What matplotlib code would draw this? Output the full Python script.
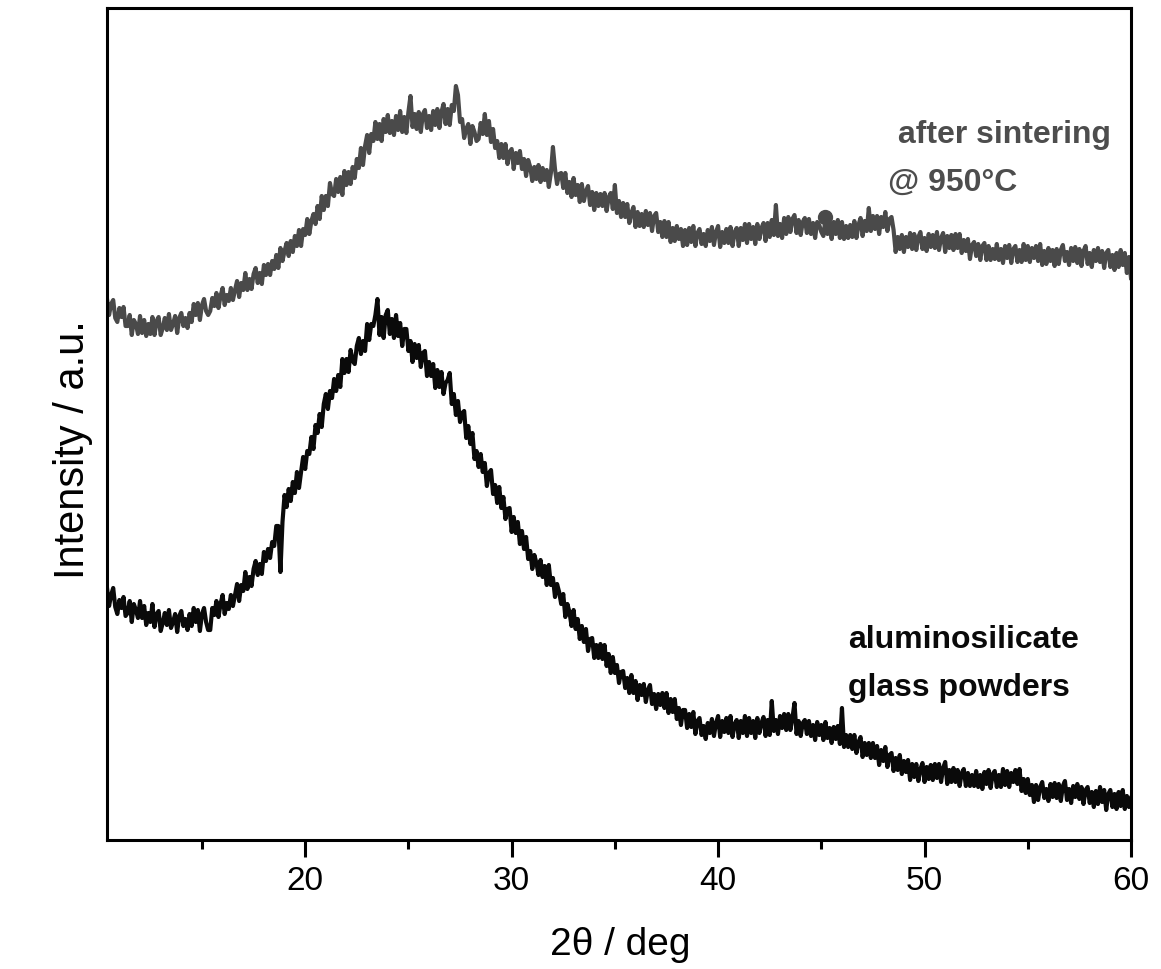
import numpy as np
import matplotlib
matplotlib.use("Agg")
import matplotlib.pyplot as plt

plt.rcParams['font.family'] = ['Liberation Sans', 'DejaVu Sans']

# 2theta scan grid (deg), step 0.1 from 10.4 to 60.0
two_theta = np.round(np.arange(10.4, 60.0001, 0.1), 1)

# aluminosilicate glass powders (a.u.), one row per degree starting at 10.4
glass = [
    252, 234, 245, 252, 233, 226, 240, 232, 243, 224,
    227, 239, 218, 236, 230, 222, 239, 222, 234, 215,
    227, 218, 236, 213, 226, 229, 209, 217, 227, 215,
    230, 212, 218, 226, 208, 224, 229, 214, 221, 210,
    226, 214, 232, 218, 230, 209, 226, 232, 218, 210,
    210, 232, 225, 239, 223, 236, 245, 226, 237, 231,
    245, 234, 245, 256, 239, 255, 249, 268, 251, 263,
    254, 271, 279, 265, 276, 266, 288, 279, 291, 282,
    298, 294, 314, 314, 268, 318, 345, 333, 351, 339,
    358, 347, 368, 352, 368, 383, 371, 389, 386, 403,
    391, 415, 407, 426, 413, 436, 446, 431, 449, 442,
    461, 449, 465, 453, 481, 467, 481, 468, 490, 479,
    476, 494, 502, 486, 499, 489, 516, 500, 516, 514,
    525, 541, 505, 523, 502, 525, 530, 506, 521, 502,
    525, 504, 517, 494, 511, 511, 489, 499, 478, 496,
    482, 495, 473, 487, 489, 464, 478, 464, 476, 452,
    470, 453, 468, 446, 457, 460, 467, 436, 446, 425,
    439, 418, 427, 429, 402, 414, 396, 407, 381, 389,
    373, 386, 368, 377, 354, 367, 370, 346, 355, 337,
    353, 332, 343, 321, 331, 332, 308, 323, 307, 318,
    296, 309, 291, 303, 281, 289, 271, 285, 277, 265,
    280, 263, 274, 255, 275, 255, 262, 243, 256, 248,
    236, 246, 223, 236, 228, 214, 230, 211, 221, 201,
    214, 198, 211, 189, 201, 202, 182, 195, 182, 196,
    181, 195, 174, 186, 167, 183, 167, 175, 157, 168,
    169, 152, 162, 147, 165, 147, 159, 140, 155, 145,
    156, 138, 150, 155, 136, 146, 131, 146, 135, 147,
    132, 147, 127, 141, 128, 141, 121, 132, 115, 130,
    130, 112, 126, 113, 128, 106, 119, 122, 105, 114,
    101, 117, 107, 121, 104, 117, 124, 103, 119, 108,
    122, 107, 124, 103, 116, 120, 102, 119, 107, 124,
    104, 122, 107, 119, 102, 122, 107, 117, 123, 104,
    120, 105, 139, 109, 120, 106, 124, 112, 126, 110,
    126, 110, 122, 137, 106, 119, 104, 117, 120, 106,
    119, 104, 115, 100, 118, 105, 115, 100, 118, 102,
    112, 97, 113, 101, 114, 96, 132, 93, 105, 93,
    105, 91, 105, 87, 98, 103, 83, 97, 85, 97,
    82, 97, 82, 94, 75, 90, 79, 93, 73, 85,
    87, 69, 82, 70, 85, 66, 79, 68, 80, 60,
    76, 63, 76, 59, 71, 77, 58, 73, 61, 75,
    60, 76, 62, 76, 58, 72, 78, 56, 70, 58,
    72, 58, 70, 54, 67, 71, 54, 67, 54, 65,
    54, 69, 53, 65, 51, 68, 56, 70, 52, 66,
    69, 53, 65, 53, 71, 55, 69, 53, 67, 58,
    70, 56, 71, 49, 61, 47, 61, 45, 55, 38,
    55, 40, 53, 58, 42, 51, 39, 56, 43, 57,
    42, 56, 39, 54, 59, 40, 51, 37, 54, 43,
    56, 41, 53, 36, 50, 53, 37, 48, 33, 49,
    36, 53, 38, 50, 30, 46, 50, 33, 46, 31,
    48, 34, 50, 31, 44, 33, 42,
]

# after sintering @ 950 C (a.u., vertically offset)
sintered = [
    541, 525, 536, 540, 522, 518, 532, 523, 533, 514,
    514, 525, 505, 520, 516, 506, 524, 507, 520, 504,
    516, 506, 523, 505, 519, 523, 505, 512, 522, 510,
    526, 510, 516, 524, 507, 522, 527, 514, 522, 512,
    527, 518, 536, 525, 537, 520, 535, 541, 529, 525,
    529, 542, 534, 547, 532, 544, 552, 535, 545, 539,
    552, 540, 550, 559, 543, 557, 550, 567, 550, 561,
    551, 566, 572, 557, 567, 556, 575, 565, 576, 565,
    579, 571, 585, 572, 592, 579, 589, 597, 584, 599,
    588, 604, 594, 610, 594, 611, 605, 621, 606, 619,
    626, 616, 634, 621, 644, 630, 644, 634, 657, 646,
    644, 661, 648, 663, 645, 669, 655, 668, 656, 673,
    662, 681, 672, 692, 675, 694, 705, 687, 706, 699,
    718, 701, 716, 699, 721, 708, 725, 707, 719, 705,
    724, 710, 729, 708, 723, 707, 728, 744, 713, 726,
    711, 728, 708, 726, 730, 712, 724, 710, 729, 715,
    731, 712, 728, 736, 716, 731, 715, 735, 729, 754,
    745, 718, 721, 702, 711, 716, 696, 714, 708, 699,
    701, 717, 706, 726, 705, 719, 698, 711, 692, 699,
    682, 696, 682, 696, 676, 688, 691, 671, 687, 677,
    689, 671, 681, 664, 680, 673, 659, 673, 661, 675,
    658, 672, 660, 670, 653, 667, 693, 671, 656, 666,
    667, 652, 667, 647, 658, 643, 662, 645, 655, 638,
    656, 639, 649, 654, 635, 648, 630, 647, 634, 646,
    634, 647, 629, 643, 647, 631, 655, 627, 639, 623,
    637, 623, 636, 617, 627, 633, 613, 628, 614, 626,
    613, 629, 615, 627, 609, 624, 627, 608, 618, 603,
    619, 603, 618, 598, 612, 599, 614, 601, 611, 594,
    610, 595, 612, 598, 614, 594, 607, 611, 596, 606,
    594, 610, 599, 613, 595, 608, 614, 593, 608, 597,
    611, 597, 613, 594, 608, 612, 594, 612, 600, 616,
    597, 616, 601, 613, 596, 616, 601, 612, 617, 599,
    617, 603, 620, 605, 635, 604, 616, 602, 622, 606,
    623, 608, 621, 625, 607, 620, 605, 618, 622, 607,
    621, 606, 617, 602, 618, 615, 608, 604, 621, 606,
    617, 601, 618, 606, 620, 602, 618, 601, 614, 602,
    615, 603, 619, 602, 615, 622, 604, 619, 609, 632,
    609, 624, 611, 624, 606, 623, 613, 628, 609, 621,
    623, 610, 588, 603, 591, 605, 588, 603, 593, 607,
    591, 606, 590, 603, 608, 591, 602, 589, 606, 593,
    605, 592, 608, 590, 602, 607, 588, 604, 592, 605,
    590, 606, 592, 606, 587, 600, 589, 601, 581, 595,
    598, 584, 596, 580, 594, 597, 580, 594, 580, 591,
    581, 596, 580, 591, 577, 594, 582, 595, 577, 591,
    594, 578, 590, 578, 596, 580, 594, 578, 592, 582,
    594, 579, 596, 575, 589, 576, 592, 579, 590, 574,
    591, 576, 590, 595, 579, 588, 575, 592, 579, 593,
    577, 591, 574, 589, 594, 576, 587, 573, 590, 579,
    592, 578, 589, 572, 587, 590, 573, 585, 570, 587,
    573, 590, 575, 587, 567, 583, 562,
]

marker_x = [45.2]
marker_y = [623]

labels_sint = ["after sintering", "@ 950\u00b0C"]
labels_glass = ["aluminosilicate", "glass powders"]

fig = plt.figure(figsize=(11.61, 9.69), dpi=100)
ax = fig.add_axes([107/1161, 1-840/969, 1024/1161, 832/969])

ax.plot(two_theta, glass, color='#0a0a0a', lw=3.0)
ax.plot(two_theta, sintered, color='#4a4a4a', lw=3.0)
ax.plot(marker_x, marker_y, 'o', color='#4a4a4a', ms=10)

ax.set_xlim(10.4, 60)
ax.set_ylim(0, 832)
ax.set_yticks([])
ax.set_xticks([20, 30, 40, 50, 60])
ax.set_xticks([15, 25, 35, 45, 55], minor=True)
ax.tick_params(axis='x', which='major', length=12, width=2.2, labelsize=24, pad=7, direction='out')
ax.tick_params(axis='x', which='minor', length=6.5, width=2.2, direction='out')
for s in ax.spines.values():
    s.set_linewidth(2.2)

ax.set_xlabel("2\u03b8 / deg", fontsize=28)
ax.xaxis.set_label_coords(0.501, -0.126)
ax.xaxis.label.set_va('center')
ax.set_ylabel("Intensity / a.u.", fontsize=30)
ax.yaxis.set_label_coords(-0.033, 0.469)
ax.yaxis.label.set_va('center')

ax.text(48.7, 705, labels_sint[0], fontsize=23, fontweight='bold', color='#4d4d4d', ha='left', va='center')
ax.text(48.22, 657, labels_sint[1], fontsize=23, fontweight='bold', color='#4d4d4d', ha='left', va='center')
ax.text(46.28, 200, labels_glass[0], fontsize=23, fontweight='bold', color='#0a0a0a', ha='left', va='center')
ax.text(46.28, 152, labels_glass[1], fontsize=23, fontweight='bold', color='#0a0a0a', ha='left', va='center')

fig.savefig("out.png", dpi=100)
